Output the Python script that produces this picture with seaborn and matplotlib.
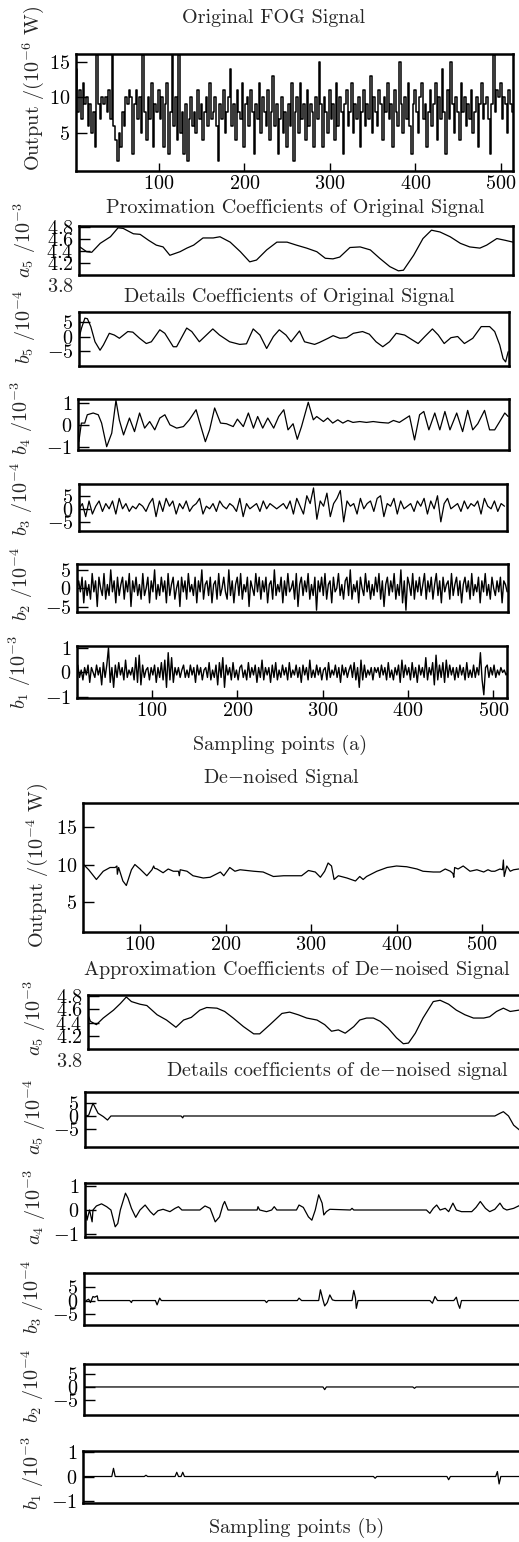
import numpy as np
import matplotlib
matplotlib.use("Agg")
import matplotlib.pyplot as plt
import matplotlib.transforms as mtransforms
import seaborn as sns

# ---------------- datos ----------------
# (a) señal original del FOG, una muestra cada 2 puntos
fog_x = np.arange(4, 515, 2)
fog_y = [14, 8, 11, 7, 12, 9, 10, 6, 9, 5, 8, 3, 16, 9, 7, 10,
         9, 10, 8, 11, 7, 16.5, 6, 4, 1, 5, 3, 8, 6, 10, 9, 11,
         10, 2, 9, 11, 7, 10, 5, 16, 8, 4, 10, 7, 12, 3, 9, 8,
         11, 7, 10, 3, 9, 12, 2, 8, 16, 6, 10, 4, 16, 5, 8, 2,
         9, 1, 7, 10, 6, 8, 5, 11, 7, 9, 4, 8, 10, 6, 12, 7,
         8, 10, 6, 1, 9, 7, 11, 5, 8, 10, 14, 6, 9, 4, 11, 8,
         7, 12, 3, 9, 10, 6, 11, 8, 2, 9, 7, 12, 5, 10, 8, 6,
         11, 4, 8, 13, 6, 9, 2, 7, 10, 5, 8, 3, 9, 6, 12, 1,
         8, 10, 5, 12, 7, 9, 4, 11, 6, 9, 8, 3, 10, 7, 15, 9,
         3, 10, 8, 5, 11, 7, 9, 4, 12, 6, 10, 8, 2, 9, 11, 6,
         8, 12, 5, 9, 7, 10, 3, 8, 11, 6, 9, 7, 13, 5, 10, 8,
         6, 11, 9, 4, 10, 8, 12, 7, 9, 3, 11, 8, 6, 15, 9, 5,
         10, 7, 12, 6, 2, 9, 11, 8, 5, 10, 12, 7, 9, 3, 8, 11,
         6, 9, 12, 4, 10, 7, 14, 8, 2, 11, 7, 15, 9, 5, 10, 8,
         4, 12, 8, 10, 6, 9, 7, 11, 5, 8, 10, 3, 9, 12, 7, 9,
         10, 7, 2, 9, 16, 8, 11, 10, 12, 7, 10, 9, 5, 11, 9, 8]

# coeficientes de aproximación a5 (señal original)
a5o_x = [2, 10, 16, 26, 38, 47, 53, 65, 73, 83,
         92, 100, 108, 120, 128, 136, 147, 159, 167, 179,
         191, 202, 210, 222, 234, 246, 257, 269, 281, 291,
         300, 308, 320, 332, 344, 355, 367, 377, 383, 395,
         406, 416, 426, 438, 450, 461, 473, 481, 493, 503,
         512]
a5o_y = [4.47, 4.39, 4.38, 4.53, 4.64, 4.79, 4.78, 4.69, 4.68, 4.58,
         4.50, 4.47, 4.33, 4.39, 4.45, 4.50, 4.62, 4.62, 4.64, 4.55,
         4.39, 4.22, 4.25, 4.42, 4.55, 4.55, 4.50, 4.45, 4.39, 4.28,
         4.27, 4.30, 4.46, 4.47, 4.42, 4.28, 4.14, 4.07, 4.08, 4.33,
         4.61, 4.75, 4.72, 4.64, 4.53, 4.47, 4.45, 4.50, 4.61, 4.58,
         4.55]

# coeficientes de detalle b5 (señal original)
b5o_x = [1, 4, 8, 11, 15, 20, 26, 30, 37, 43,
         49, 59, 65, 73, 81, 87, 97, 103, 113, 117,
         129, 135, 144, 160, 168, 180, 192, 200, 208, 216,
         224, 232, 239, 247, 253, 263, 269, 281, 287, 297,
         303, 311, 319, 327, 338, 346, 354, 362, 370, 378,
         388, 394, 404, 412, 421, 428, 435, 443, 451, 459,
         469, 479, 489, 495, 501, 505, 508, 511]
b5o_y = [-0.5, 3.0, 6.4, 6.2, 3.5, -1.7, -4.6, -2.8, 1.2, 0.6,
         -0.5, 1.8, 1.6, -0.5, -2.3, -1.7, 2.4, 1.2, -3.4, -3.4,
         3.0, 1.8, -1.7, 2.7, 0.6, -1.7, -2.6, -2.4, 2.7, 0.6,
         -4.0, 0.1, 2.4, 0.6, -1.7, 2.0, -1.7, -2.6, -1.9, -0.5,
         0.4, -0.5, -0.3, 1.2, 1.8, 0.9, -1.7, -3.4, -1.7, 1.2,
         0.6, -0.5, -2.3, 0.1, 2.7, 0.6, -2.3, -0.3, 0.1, -2.3,
         -0.5, 3.5, 3.5, 1.8, -2.8, -7.5, -8.6, -5.1]

# coeficientes de detalle b4 (señal original)
b4o_x = [2, 5, 9, 12, 19, 25, 29, 35, 41, 46,
         50, 55, 62, 68, 74, 80, 86, 92, 98, 104,
         110, 118, 126, 133, 141, 145, 152, 157, 163, 170,
         177, 185, 190, 197, 203, 209, 214, 220, 226, 233,
         239, 245, 250, 256, 261, 266, 274, 280, 284, 292,
         297, 303, 309, 315, 321, 327, 335, 343, 351, 359,
         369, 375, 382, 388, 394, 400, 406, 411, 417, 424,
         430, 436, 442, 450, 457, 463, 469, 475, 483, 489,
         495, 501, 507, 511]
b4o_y = [-0.77, 0.08, 0.08, 0.46, 0.54, 0.46, 0.08, -1.0, -0.38, 1.12,
         0.22, -0.46, 0.31, -0.31, 0.54, -0.15, 0.15, -0.23, 0.31, 0.46,
         0.0, -0.15, -0.08, 0.23, 0.69, 0.15, -0.77, -0.23, 0.77, 0.08,
         0.05, -0.08, 0.26, -0.08, 0.54, -0.15, 0.38, -0.15, 0.31, -0.15,
         0.38, 0.69, -0.23, 0.05, -0.66, -0.08, 1.03, 0.23, 0.38, 0.15,
         0.31, 0.08, 0.23, 0.08, 0.2, 0.11, 0.15, 0.11, 0.15, 0.11,
         0.08, 0.2, 0.11, 0.26, 0.41, -0.69, 0.46, 0.61, -0.23, 0.54,
         -0.23, 0.61, -0.23, 0.54, -0.31, 0.66, -0.23, 0.05, 0.66, -0.23,
         -0.23, 0.15, 0.54, 0.38]

# coeficientes de detalle b3 (señal original), una muestra cada 4 puntos
b3o_x = np.arange(1, 510, 4)
b3o_y = [0, 2, -3, 3, -2, 1, 3, -1, 2, 0,
         3, -2, 4, 0, 2, -1, 1, 0, 2, 1,
         -1, 2, 4, -3, 3, -1, 4, 1, 3, -2,
         2, 0, 3, -1, 1, 2, 4, -2, 1, 0,
         2, -1, 3, 1, 0, 2, 1, -1, 4, -3,
         2, 0, 1, 2, -1, 3, 0, 2, 1, 0,
         1, 2, 0, 3, -2, 4, 1, -2, 5, 2,
         8, -4, 3, 1, 6, -3, 2, 4, 7, -5,
         3, 1, 2, -2, 4, 0, 2, 3, -1, 4,
         5, -3, 2, 1, 4, -2, 3, 0, 1, 2,
         -1, 3, 1, 4, -2, 3, 0, 5, -5, 2,
         4, 0, 1, 2, -1, 3, 0, 2, 1, 3,
         -2, 4, 1, 0, 3, -1, 2, 1]

# coeficientes de detalle b2 (señal original), una muestra cada 2 puntos
b2o_x = np.arange(1, 512, 2)
b2o_y = [0, 2, -1, 3, -4, 2, -2, 1, -3, 4, -1, 2, -5, 3, 0, -2,
         4, -3, 1, -2, 5, -1, 2, -4, 3, -2, 1, 3, -3, 2, -1, 4,
         -5, 2, -1, 3, -2, 1, -3, 4, -2, 0, 3, -4, 2, -1, 5, -3,
         1, -2, 3, -1, 2, -4, 4, -2, 1, 3, -3, 0, 2, -5, 3, -1,
         2, -3, 4, -1, 1, -2, 3, -4, 2, -1, 5, -3, 1, 2, -2, 3,
         -4, 1, 2, -3, 4, -2, 0, 3, -1, -3, 5, -2, 2, -4, 1, 3,
         -2, 4, -3, 1, -1, 3, -5, 2, 0, -2, 4, -1, 3, -3, 2, -1,
         3, -4, 1, 2, -3, 5, -2, 1, -1, 3, -4, 2, -2, 4, -1, 0,
         2, -3, 4, -5, 1, 3, -2, 2, -1, 4, -3, 1, -2, 3, -6, 2,
         -1, 3, -2, 4, -3, 1, 2, -4, 3, -1, 0, 4, -2, 1, -3, 2,
         3, -2, 5, -3, 1, -1, 2, -4, 3, 0, -2, 4, -1, 2, -3, 1,
         -2, 3, -1, 4, -3, 2, -5, 1, 3, -2, 2, -1, 4, -3, 1, -2,
         5, -4, 2, -6, 3, 1, -2, 4, -3, 2, -1, 3, -2, 1, 4, -3,
         2, -1, 3, -3, 1, 4, -2, 2, -4, 3, -1, 1, 2, -3, 4, -2,
         1, 3, -2, 2, -4, 1, 3, -1, 2, -3, 4, -2, 1, -1, 3, -4,
         2, -1, 4, -2, 1, -3, 3, 0, -2, 2, -1, 3, -4, 2, 1, -1]

# coeficientes de detalle b1 (señal original), una muestra cada 2 puntos
b1o_x = np.arange(13, 524, 2)
b1o_y = [0.3, -0.2, 0.1, -0.3, 0.2, -0.1, 0.3, -0.4, 0.2, 0.0, -0.2, 0.3, -0.1, 0.2, -0.5, 0.4,
         -0.2, 0.3, 1.0, -0.4, 0.2, -0.6, 0.3, -0.2, 0.4, -0.1, 0.2, -0.3, 0.5, -0.2, 0.1, -0.1,
         0.2, -0.3, 0.6, -0.4, 0.7, -0.5, 0.3, -0.2, 0.1, 0.2, -0.3, 0.2, -0.1, 0.3, -0.4, 0.2,
         -0.2, 0.4, -0.3, 0.5, -0.6, 0.8, -0.3, 0.6, -0.4, 0.2, -0.1, 0.2, -0.2, 0.1, 0.3, -0.2,
         0.1, -0.2, 0.3, -0.1, 0.2, -0.4, 0.3, -0.1, 0.2, -0.3, 0.1, 0.2, -0.2, 0.4, -0.3, 0.1,
         -0.2, 0.3, -0.5, 0.4, -0.2, 0.6, -0.6, 0.3, -0.1, 0.2, -0.3, 0.4, -0.2, 0.1, -0.3, 0.2,
         0.3, -0.2, 0.1, -0.3, 0.4, -0.2, 0.2, -0.1, 0.3, -0.4, 0.2, -0.2, 0.5, -0.3, 0.2, -0.1,
         0.2, -0.4, 0.3, -0.2, 0.4, -0.3, 0.1, -0.2, 0.3, -0.1, 0.2, -0.3, 0.4, -0.2, 0.1, -0.1,
         0.3, -0.2, 0.2, -0.4, 0.3, -0.1, 0.2, -0.3, 0.5, -0.2, 0.1, -0.2, 0.3, -0.1, 0.2, -0.3,
         0.1, 0.2, -0.3, 0.4, -0.2, 0.1, -0.1, 0.3, -0.2, 0.2, -0.4, 0.3, -0.1, 0.2, -0.2, 0.1,
         0.3, -0.2, 0.4, -0.3, 0.2, -0.6, 0.5, -0.3, 0.3, -0.2, 0.1, -0.1, 0.2, -0.3, 0.2, 0.0,
         0.2, -0.2, 0.3, -0.1, 0.2, -0.3, 0.4, -0.2, 0.1, -0.3, 0.2, -0.1, 0.3, -0.4, 0.5, -0.2,
         0.3, -0.1, 0.2, -0.3, 0.4, -0.2, 0.2, -0.4, 0.3, -0.1, 0.2, -0.2, 0.6, -0.3, 0.2, -0.1,
         0.4, -0.5, 0.7, -0.3, 0.3, -0.2, 0.4, -0.4, 0.5, -0.2, 0.3, -0.1, 0.2, -0.3, 0.2, -0.2,
         0.3, -0.1, 0.2, -0.3, 0.4, -0.2, 0.1, -0.2, 0.3, -0.2, 0.2, -0.1, 0.8, -0.3, -0.9, 0.2,
         0.3, -0.2, 0.2, -0.1, 0.3, -0.2, 0.1, -0.1, 0.2, 0.0, 0.1, -0.1, 0.0, 0.0, 0.0, 0.0]

# (b) señal sin ruido (10^-4 W)
dn_x = [34, 40, 49, 57, 65, 71, 73, 73.5, 75, 80,
        84, 90, 94, 100, 108, 114, 116, 117, 120, 127,
        133, 139, 145, 146, 147, 155, 162, 174, 182, 194,
        198, 205, 211, 217, 233, 244, 256, 268, 279, 289,
        297, 305, 311, 316, 320, 324, 327, 332, 342, 352,
        357, 361, 365, 377, 389, 400, 412, 424, 431, 443,
        451, 457, 463, 466, 467, 468, 472, 478, 486, 494,
        502, 507, 511, 515, 521, 524, 525, 526, 529, 533,
        537, 543, 568]
dn_y = [10.0, 9.3, 8.0, 9.1, 9.6, 9.6, 9.8, 8.7, 9.6, 7.8,
        7.2, 9.3, 10.0, 9.4, 8.5, 9.3, 9.8, 9.5, 9.4, 8.9,
        9.4, 9.1, 9.1, 8.5, 9.3, 9.1, 8.5, 8.2, 8.3, 9.0,
        8.5, 9.6, 9.1, 9.3, 9.1, 9.0, 8.4, 8.5, 8.5, 8.5,
        9.2, 9.0, 8.3, 9.1, 10.2, 9.8, 8.0, 8.5, 8.2, 7.8,
        8.4, 8.0, 8.4, 9.1, 9.6, 9.8, 9.7, 9.4, 9.1, 9.0,
        9.0, 9.4, 9.1, 8.8, 8.3, 9.6, 9.4, 9.8, 9.1, 9.3,
        9.0, 9.3, 9.1, 9.1, 9.4, 9.3, 10.6, 8.4, 9.8, 9.1,
        9.3, 9.4, 9.4]

a5d_x = [40, 42, 49, 57, 69, 77, 84, 90, 100, 108,
         120, 131, 142, 151, 160, 170, 178, 190, 199, 209,
         221, 233, 240, 252, 266, 275, 285, 295, 307, 316,
         324, 332, 340, 350, 357, 365, 373, 381, 390, 400,
         408, 414, 422, 431, 443, 451, 461, 470, 480, 490,
         502, 509, 517, 525, 533, 543, 568]
a5d_y = [4.49, 4.42, 4.37, 4.47, 4.59, 4.69, 4.79, 4.72, 4.68, 4.66,
         4.52, 4.44, 4.33, 4.44, 4.48, 4.59, 4.63, 4.62, 4.57, 4.47,
         4.34, 4.23, 4.23, 4.37, 4.54, 4.56, 4.52, 4.47, 4.44, 4.37,
         4.27, 4.29, 4.24, 4.34, 4.44, 4.47, 4.47, 4.42, 4.32, 4.17,
         4.08, 4.09, 4.24, 4.47, 4.72, 4.74, 4.68, 4.59, 4.52, 4.47,
         4.47, 4.49, 4.57, 4.62, 4.57, 4.59, 4.55]

d5d_x = [37, 40, 45, 51, 57, 62, 66, 148, 150, 151, 515, 521, 525, 531, 537, 545]
d5d_y = [0.0, 0.3, 4.7, 1.0, -0.2, -1.5, 0.0, 0.0, -0.7, 0.0, 0.0, 1.0, 1.6, 0.0, -3.4, -5.5]

d4d_x = [37, 38, 41, 44, 45, 49, 55, 61, 66, 71,
         74, 77, 83, 86, 90, 95, 100, 106, 112, 116,
         121, 127, 135, 141, 145, 149, 170, 176, 182, 188,
         193, 197, 199, 203, 237, 238, 240, 248, 254, 257,
         260, 283, 286, 291, 297, 301, 305, 309, 313, 315,
         318, 322, 346, 348, 350, 435, 439, 443, 447, 451,
         457, 461, 466, 470, 476, 488, 493, 498, 504, 509,
         515, 521, 525, 529, 537, 545]
d4d_y = [-0.07, -0.43, 0.0, -0.5, 0.0, 0.17, 0.26, 0.14, 0.0, -0.71,
         -0.57, 0.0, 0.71, 0.5, 0.07, -0.31, 0.0, 0.21, -0.07, -0.21,
         -0.03, 0.03, -0.07, 0.07, 0.14, 0.0, 0.0, 0.17, 0.07, -0.5,
         -0.29, 0.21, 0.36, 0.0, 0.0, 0.14, 0.0, -0.07, 0.0, 0.14,
         0.0, 0.0, 0.21, 0.11, -0.29, -0.43, 0.0, 0.64, 0.29, -0.21,
         -0.07, 0.03, 0.0, 0.07, 0.0, 0.0, -0.14, 0.07, 0.21, 0.0,
         0.07, -0.07, 0.29, 0.0, -0.07, -0.07, 0.11, 0.36, 0.07, -0.07,
         0.03, 0.29, 0.07, 0.0, 0.07, 0.21]

d3d_x = [37, 40, 42, 45, 47, 50, 51, 53, 88, 90,
         91, 118, 120, 123, 125, 246, 248, 250, 284, 286,
         289, 309, 311, 314, 316, 319, 322, 325, 328, 348,
         350, 352, 353, 355, 439, 442, 445, 448, 467, 470,
         472, 474, 476, 545]
d3d_y = [0.0, 0.5, -0.75, 1.5, 1.25, 1.75, 0.0, 0.0, 0.0, -0.75,
         0.0, 0.0, -1.6, 0.9, 0.0, 0.0, -0.75, 0.0, 0.0, 0.9,
         0.0, 0.0, 4.0, 0.25, -2.0, -0.75, 2.1, 0.25, 0.0, 0.0,
         3.75, 1.0, -2.9, 0.0, 0.0, -1.0, 1.5, 0.0, 0.0, 1.25,
         -1.25, -2.9, 0.0, 0.0]

d2d_x = [34, 314, 316, 318, 419, 421, 423, 545]
d2d_y = [0.0, 0.0, -1.0, 0.0, 0.0, -0.5, 0.0, 0.0]

d1d_x = [33, 67, 69, 71, 105, 107, 109, 141, 143, 145,
         148, 150, 152, 373, 375, 377, 459, 461, 463, 516,
         518, 520, 522, 545]
d1d_y = [0.0, 0.0, 0.33, 0.0, 0.0, 0.05, 0.0, 0.0, 0.17, 0.0,
         0.0, 0.17, 0.0, 0.0, -0.07, 0.0, 0.0, -0.13, 0.0, 0.0,
         0.2, -0.3, 0.0, 0.0]

sample_ticks = [100, 200, 300, 400, 500]

# ---------------- estilo ----------------
FS = 14.5
sns.set_style("ticks")
plt.rcParams.update({
    "font.family": ["cmr10", "DejaVu Serif"],
    "mathtext.fontset": "cm",
    "axes.formatter.use_mathtext": True,
    "font.size": FS,
})

W, H = 519, 1542
fig = plt.figure(figsize=(W / 100, H / 100), dpi=100)
fig.patch.set_facecolor("white")


def px_axes(left, top, right, bottom):
    # ejes definidos por su caja en píxeles de la imagen
    return fig.add_axes([left / W, 1 - bottom / H, (right - left) / W, (bottom - top) / H])


def fig_text(x, y, s, **kw):
    fig.text(x / W, 1 - y / H, s, fontsize=FS, **kw)


def draw_panel(box, x, y, xlim, ylim, yticks, xticks=None, steps=False, lw=0.9):
    ax = px_axes(*box)
    sns.lineplot(x=x, y=y, ax=ax, color="black", linewidth=lw,
                 estimator=None, sort=False,
                 drawstyle="steps-mid" if steps else "default")
    ax.set_xlim(*xlim)
    ax.set_ylim(*ylim)
    ax.set_yticks(yticks)
    ax.set_xticks(xticks if xticks is not None else [])
    ax.set_xlabel("")
    ax.set_ylabel("")
    ax.tick_params(axis="both", direction="in", labelsize=FS, width=1, colors="black")
    ax.tick_params(axis="y", length=8, pad=4)
    ax.tick_params(axis="x", length=6, pad=3)
    for spine in ax.spines.values():
        spine.set_visible(True)
        spine.set_linewidth(1.8)
        spine.set_color("black")
    ax.grid(False)
    return ax


def extra_ylabel(ax, yval, text):
    # etiqueta suelta por debajo de la caja (el 3.8 de los paneles a5)
    trans = mtransforms.offset_copy(ax.get_yaxis_transform(), fig=fig, x=-4, y=0, units="points")
    ax.text(0, yval, text, transform=trans, ha="right", va="center",
            fontsize=FS, clip_on=False)


def top_x(px, ref_px=158.7):
    return 100 + (px - ref_px) / 0.855


def bot_x(px):
    return 100 + (px - 140) / 0.855


# ---------------- parte (a) ----------------
draw_panel((76, 54, 513, 171), fog_x, fog_y, (top_x(76), top_x(513)), (-0.35, 16.1),
           [5, 10, 15], sample_ticks, steps=True, lw=1.1)
ax = draw_panel((79, 226, 513, 275), a5o_x, a5o_y, (1, 512), (4.0, 4.82), [4.2, 4.4, 4.6, 4.8])
extra_ylabel(ax, 3.8, r"$\mathdefault{3.8}$")
draw_panel((79, 312, 509, 366), b5o_x, b5o_y, (1, 512), (-10, 8.5), [-5, 0, 5])
draw_panel((78, 399, 509, 450), b4o_x, b4o_y, (1, 512), (-1.15, 1.18), [-1, 0, 1])
draw_panel((79, 484, 507, 531), b3o_x, b3o_y, (1, 512), (-8.5, 9.5), [-5, 0, 5])
draw_panel((77, 564, 508, 612), b2o_x, b2o_y, (1, 512), (-6.5, 6.6), [-5, 0, 5], lw=1.0)
draw_panel((77, 646, 507, 698), b1o_x, b1o_y,
           (100 + (77 - 152) / 0.853, 100 + (507 - 152) / 0.853), (-1.03, 1.07),
           [-1, 0, 1], sample_ticks, lw=1.0)

fig_text(274, 18, "Original FOG Signal", ha="center", va="center")
fig_text(295, 208, "Proximation Coefficients of Original Signal", ha="center", va="center")
fig_text(289, 297, "Details Coefficients of Original Signal", ha="center", va="center")
fig_text(280, 745, "Sampling points (a)", ha="center", va="center")

fig_text(33, 89, r"Output /(10$^{-6}$ W)", rotation=90, ha="center", va="center")
fig_text(25, 240, r"$a_5$ /10$^{-3}$", rotation=90, ha="center", va="center")
fig_text(25, 327, r"$b_5$ /10$^{-4}$", rotation=90, ha="center", va="center")
fig_text(22, 418, r"$b_4$ /10$^{-3}$", rotation=90, ha="center", va="center")
fig_text(22, 499, r"$b_3$ /10$^{-4}$", rotation=90, ha="center", va="center")
fig_text(22, 584, r"$b_2$ /10$^{-4}$", rotation=90, ha="center", va="center")
fig_text(20, 672, r"$b_1$ /10$^{-3}$", rotation=90, ha="center", va="center")

# ---------------- parte (b) ----------------
R = 540
draw_panel((83, 803, R, 932), dn_x, dn_y, (bot_x(83), bot_x(R)), (1, 18.2),
           [5, 10, 15], sample_ticks)
ax = draw_panel((88, 995, R, 1049), a5d_x, a5d_y, (bot_x(88), bot_x(R)), (4.0, 4.82),
                [4.2, 4.4, 4.6, 4.8])
extra_ylabel(ax, 3.8, r"$\mathdefault{3.8}$")
draw_panel((85, 1092, R, 1147), d5d_x, d5d_y, (bot_x(85), bot_x(R)), (-11.5, 8.9), [-5, 0, 5])
draw_panel((85, 1183, R, 1237), d4d_x, d4d_y, (bot_x(85), bot_x(R)), (-1.14, 1.14), [-1, 0, 1])
draw_panel((84, 1273, R, 1325), d3d_x, d3d_y, (bot_x(84), bot_x(R)), (-9.1, 10.25), [-5, 0, 5])
draw_panel((84, 1364, R, 1415), d2d_x, d2d_y, (bot_x(84), bot_x(R)), (-10.5, 8.6), [-5, 0, 5])
draw_panel((83, 1451, R, 1503), d1d_x, d1d_y, (bot_x(83), bot_x(R)), (-1.07, 1.03), [-1, 0, 1])

fig_text(281, 778, r"De$-$noised Signal", ha="center", va="center")
fig_text(83, 970, r"Approximation Coefficients of De$-$noised Signal", ha="left", va="center")
fig_text(166, 1071, r"Details coefficients of de$-$noised signal", ha="left", va="center")
fig_text(297, 1528, "Sampling points (b)", ha="center", va="center")

fig_text(37, 866, r"Output /(10$^{-4}$ W)", rotation=90, ha="center", va="center")
fig_text(35, 1018, r"$a_5$ /10$^{-3}$", rotation=90, ha="center", va="center")
fig_text(35, 1117, r"$a_5$ /10$^{-4}$", rotation=90, ha="center", va="center")
fig_text(35, 1207, r"$a_4$ /10$^{-3}$", rotation=90, ha="center", va="center")
fig_text(33, 1297, r"$b_3$ /10$^{-4}$", rotation=90, ha="center", va="center")
fig_text(33, 1386, r"$b_2$ /10$^{-4}$", rotation=90, ha="center", va="center")
fig_text(33, 1473, r"$b_1$ /10$^{-3}$", rotation=90, ha="center", va="center")

fig.savefig("out.png", dpi=100, facecolor="white")
plt.close(fig)
